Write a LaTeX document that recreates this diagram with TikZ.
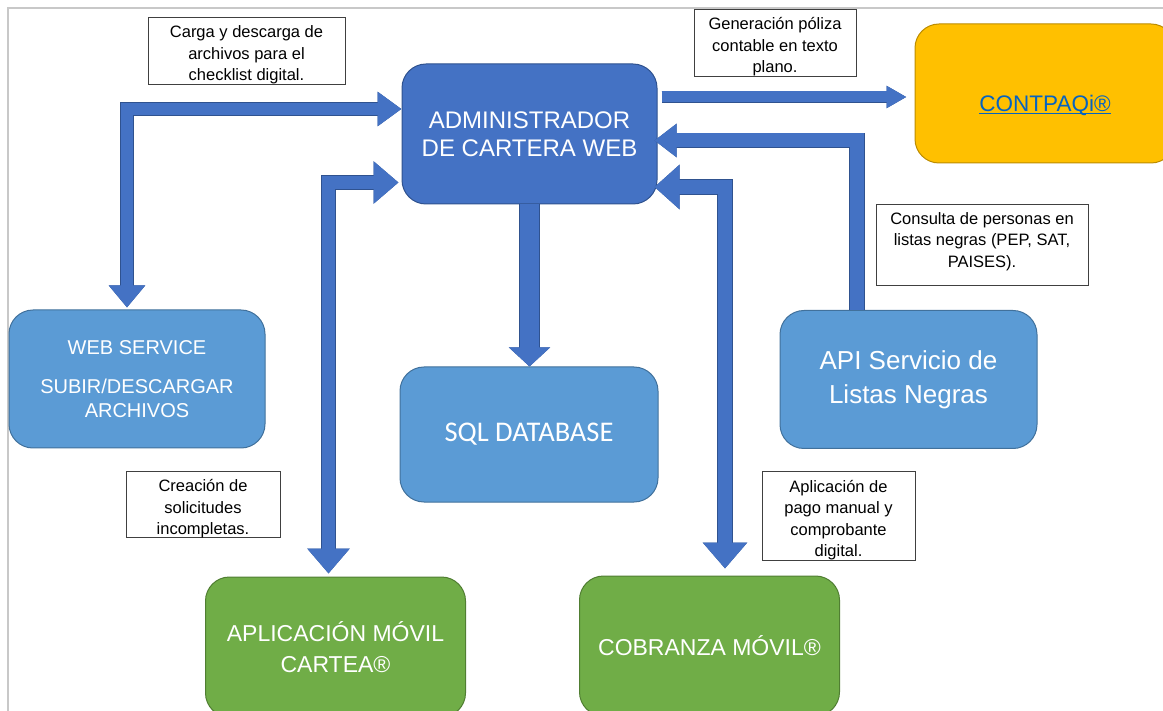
\documentclass[tikz,border=0pt]{standalone}
\usepackage{fontspec}
\setmainfont{Liberation Sans}
\newfontfamily\calibrifont{Carlito}
\usetikzlibrary{arrows.meta, positioning}

\definecolor{adminblue}{HTML}{4472C4}
\definecolor{adminedge}{HTML}{2F528F}
\definecolor{serviceblue}{HTML}{5B9BD5}
\definecolor{serviceedge}{HTML}{41719C}
\definecolor{appgreen}{HTML}{70AD47}
\definecolor{appedge}{HTML}{507E32}
\definecolor{contpaqgold}{HTML}{FFC000}
\definecolor{contpaqedge}{HTML}{BC8C00}
\definecolor{linkblue}{HTML}{0563C1}
\definecolor{framegray}{HTML}{C8C8C8}

% underlined link text
\newsavebox{\linkbox}
\newcommand{\linktext}[1]{\sbox{\linkbox}{#1}\rlap{\usebox{\linkbox}}\rule[-3pt]{\wd\linkbox}{1.6pt}}

\begin{document}
\begin{tikzpicture}[x=1pt, y=-1pt,
  every node/.style={align=center},
  box/.style={rectangle, rounded corners=24pt, line width=1pt, text=white,
    minimum width=257pt, minimum height=138pt},
  adminbox/.style={box, fill=adminblue, draw=adminedge},
  servicebox/.style={box, fill=serviceblue, draw=serviceedge},
  appbox/.style={box, fill=appgreen, draw=appedge, minimum width=260pt, minimum height=140pt},
  note/.style={rectangle, draw=black!75, line width=0.9pt, fill=white},
  notetext/.style={inner sep=0pt, font=\fontsize{16.5}{21.5}\selectfont},
  flow/.style={draw=adminblue, line width=#1, line join=miter,
    preaction={draw=adminedge, line width=#1+1.5pt}}
]

\useasboundingbox (0,0) rectangle (1163,711);
\clip (0,0) rectangle (1163,711);

% page frame
\draw[framegray, line width=2pt] (7.5,711) -- (7.5,8) -- (1163,8);

% Main boxes
\node[adminbox, minimum width=255pt, minimum height=140pt, font=\fontsize{24}{28}\selectfont]
  (admin) at (529.5,134) {ADMINISTRADOR\\DE CARTERA WEB};

\node[box, fill=contpaqgold, draw=contpaqedge, minimum width=260pt, minimum height=139pt,
  text=linkblue, font=\fontsize{22.5}{27}\selectfont]
  (contpaq) at (1045,93.5) {\rule{0pt}{40pt}\linktext{CONTPAQi®}};

\node[servicebox, minimum width=256pt, font=\fontsize{20}{24}\selectfont]
  (webservice) at (137,379) {WEB SERVICE\\[15pt]SUBIR/DESCARGAR\\ARCHIVOS};

\node[servicebox, minimum width=258pt, minimum height=135pt, font=\calibrifont\fontsize{28.5}{34}\selectfont]
  (sql) at (529,434.5) {SQL DATABASE};

\node[servicebox, font=\fontsize{26}{34}\selectfont]
  (api) at (908.5,379.5) {API Servicio de\\Listas Negras};

\node[appbox, font=\fontsize{23}{31}\selectfont]
  (appmovil) at (335.5,647) {APLICACIÓN MÓVIL\\CARTEA®};

\node[appbox, font=\fontsize{23}{31}\selectfont]
  (cobranza) at (709.5,646) {COBRANZA MÓVIL®};

% Block arrows
\draw[flow=12pt, {Triangle[width=35pt,length=22pt]}-{Triangle[width=33pt,length=24pt]}]
  ([shift={(-10pt,2pt)}]webservice.north) |- ([yshift=25pt]admin.west);
\draw[flow=13pt, {Triangle[width=41pt,length=25pt]}-{Triangle[width=41pt,length=25pt]}]
  ([shift={(-7pt,3pt)}]appmovil.north) |- ([shift={(-3pt,-48.5pt)}]admin.west);
\draw[flow=19pt, -{Triangle[width=40pt,length=19pt]}]
  (admin.south) -- (admin.south |- sql.north);
\draw[flow=14pt, {Triangle[width=43pt,length=26pt]}-{Triangle[width=43pt,length=25pt]}]
  ([shift={(15.5pt,7pt)}]cobranza.north) |- ([shift={(-3pt,-53pt)}]admin.east);
\draw[flow=14pt, -{Triangle[width=32pt,length=22pt]}]
  ([xshift=-51.5pt]api.north) |- ([shift={(-3pt,-6.5pt)}]admin.east);
\draw[flow=11pt, -{Triangle[width=21pt,length=20pt]}]
  ([shift={(4pt,37pt)}]admin.east) -- ([shift={(-8pt,-3.5pt)}]contpaq.west);

% Notes
\node[note, minimum width=197pt, minimum height=67pt] (cargaBox) at (246.5,50.5) {};
\node[notetext] (cargaText) at ([yshift=-4.5pt]cargaBox.center)
  {Carga y descarga de\\archivos para el\\checklist digital.};

\node[note, minimum width=162pt, minimum height=67pt] (polizaBox) at (775,42.5) {};
\node[notetext] (polizaText) at ([yshift=-4.5pt]polizaBox.center)
  {Generación póliza\\contable en texto\\plano.};

\node[note, minimum width=212pt, minimum height=81pt] (listasBox) at (982,244.5) {};
\node[notetext] (listasText) at ([yshift=3pt]listasBox.center)
  {Consulta de personas en\\listas negras (PEP, SAT,\\PAISES).};

\node[note, minimum width=153pt, minimum height=89pt] (pagoBox) at (838.5,515.5) {};
\node[notetext] (pagoText) at ([yshift=-4.5pt]pagoBox.center)
  {Aplicación de\\pago manual y\\comprobante\\digital.};

\node[note, minimum width=154pt, minimum height=66pt] (solicitudesBox) at (203,504) {};
\node[notetext] (solicitudesText) at ([yshift=-5pt]solicitudesBox.center)
  {Creación de\\solicitudes\\incompletas.};

\end{tikzpicture}
\end{document}
